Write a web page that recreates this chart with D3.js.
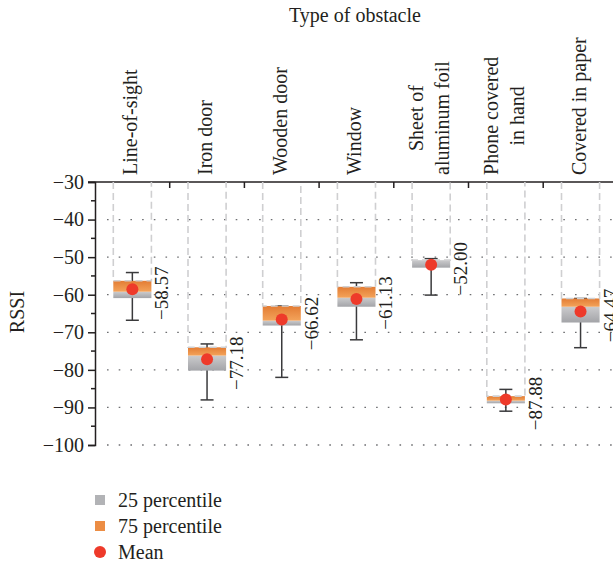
<!DOCTYPE html>
<html>
<head>
<meta charset="utf-8">
<script src="https://cdn.jsdelivr.net/npm/d3@7/dist/d3.min.js"></script>
<style>
  html, body { margin: 0; padding: 0; background: #fff; }
  svg { display: block; }
  text { font-family: "Liberation Serif", "DejaVu Serif", serif; fill: #231f20; }
</style>
</head>
<body>
<svg id="chart" width="613" height="565"></svg>
<script>
// ---- data ----
const categories = ["Line-of-sight", "Iron door", "Wooden door", "Window", "Sheet of\naluminum foil", "Phone covered\nin hand", "Covered in paper"];
const q1Values      = [-60.9, -80.2, -68.2, -63.2, -52.8, -88.9, -67.4];
const medianValues  = [-59.2, -76.2, -66.9, -60.8, -50.8, -88.2, -63.2];
const q3Values      = [-56.3, -74.0, -63.0, -57.9, -50.8, -87.0, -61.0];
const whiskerLow    = [-66.8, -88.0, -82.0, -72.0, -60.1, -91.0, -74.1];
const whiskerHigh   = [-54.1, -73.1, -63.0, -56.8, -50.4, -85.2, -61.0];
const meanValues    = [-58.57, -77.18, -66.62, -61.13, -52.00, -87.88, -64.47];
const yTicks        = [-30, -40, -50, -60, -70, -80, -90, -100];
const yMinorTicks   = [-35, -45, -55, -65, -75, -85, -95];
const legendLabels  = ["25 percentile", "75 percentile", "Mean"];
const xTitle = "Type of obstacle";
const yTitle = "RSSI";

// ---- layout ----
const svg = d3.select("#chart");
const plotLeft = 95, plotTop = 182, plotBottom = 445, bandW = 74.7;
const y = d3.scaleLinear().domain([-100, -30]).range([plotBottom, plotTop]);
const x = d3.scaleBand().domain(categories).range([plotLeft, plotLeft + bandW * categories.length]).padding(0);
const boxW = x.bandwidth() * 0.51;
const fmt = v => (v < 0 ? "\u2212" : "") + Math.abs(v).toFixed(2);

const defs = svg.append("defs");
const gOr = defs.append("linearGradient").attr("id", "gOrange").attr("x1", 0).attr("y1", 0).attr("x2", 0).attr("y2", 1);
gOr.append("stop").attr("offset", "0%").attr("stop-color", "#e37c34");
gOr.append("stop").attr("offset", "100%").attr("stop-color", "#f3a35a");
const gGr = defs.append("linearGradient").attr("id", "gGray").attr("x1", 0).attr("y1", 0).attr("x2", 0).attr("y2", 1);
gGr.append("stop").attr("offset", "0%").attr("stop-color", "#cbcbcd");
gGr.append("stop").attr("offset", "100%").attr("stop-color", "#a3a4a8");

// gridlines
svg.append("g").selectAll("line").data(yTicks.filter(d => d !== -30)).join("line")
  .attr("x1", plotLeft + 12).attr("x2", 613).attr("y1", d => y(d)).attr("y2", d => y(d))
  .attr("stroke", "#6d6e71").attr("stroke-width", 1.3).attr("stroke-dasharray", "1.6,10.1");

// y axis
const yAxis = svg.append("g").attr("transform", `translate(${plotLeft},0)`)
  .call(d3.axisLeft(y).tickValues(yTicks).tickSize(7).tickPadding(4).tickFormat(d => (d < 0 ? "\u2212" : "") + Math.abs(d)));
yAxis.select(".domain").attr("stroke", "#231f20").attr("stroke-width", 1.5);
yAxis.selectAll(".tick line").attr("stroke", "#231f20").attr("stroke-width", 1.5);
yAxis.selectAll(".tick text").attr("font-size", 20).attr("font-family", "Liberation Serif").attr("fill", "#231f20");
svg.append("g").selectAll("line").data(yMinorTicks).join("line")
  .attr("x1", plotLeft - 4).attr("x2", plotLeft).attr("y1", d => y(d)).attr("y2", d => y(d))
  .attr("stroke", "#231f20").attr("stroke-width", 1.5);

// top axis
svg.append("line").attr("x1", plotLeft - 7).attr("x2", 613).attr("y1", plotTop).attr("y2", plotTop)
  .attr("stroke", "#231f20").attr("stroke-width", 1.5);
svg.append("g").selectAll("line").data(categories).join("line")
  .attr("x1", d => x(d) + x.bandwidth()).attr("x2", d => x(d) + x.bandwidth())
  .attr("y1", plotTop).attr("y2", plotTop + 6).attr("stroke", "#231f20").attr("stroke-width", 1.5);

const rows = categories.map((c, i) => ({
  c, q1: q1Values[i], med: medianValues[i], q3: q3Values[i],
  lo: whiskerLow[i], hi: whiskerHigh[i], mean: meanValues[i],
  cx: x(c) + x.bandwidth() / 2
}));

// whiskers
const wg = svg.append("g").attr("stroke", "#3a3a3c").attr("stroke-width", 1.5);
wg.selectAll(".stem").data(rows).join("line").attr("class", "stem")
  .attr("x1", d => d.cx).attr("x2", d => d.cx).attr("y1", d => y(d.hi)).attr("y2", d => y(d.lo));
wg.selectAll(".capH").data(rows).join("line").attr("class", "capH")
  .attr("x1", d => d.cx - 6.5).attr("x2", d => d.cx + 6.5).attr("y1", d => y(d.hi)).attr("y2", d => y(d.hi));
wg.selectAll(".capL").data(rows).join("line").attr("class", "capL")
  .attr("x1", d => d.cx - 6.5).attr("x2", d => d.cx + 6.5).attr("y1", d => y(d.lo)).attr("y2", d => y(d.lo));

// boxes
svg.append("g").selectAll("rect").data(rows).join("rect")
  .attr("x", d => d.cx - boxW / 2).attr("width", boxW)
  .attr("y", d => y(d.med)).attr("height", d => y(d.q1) - y(d.med))
  .attr("fill", "url(#gGray)");
svg.append("g").selectAll("rect").data(rows.filter(d => d.q3 > d.med)).join("rect")
  .attr("x", d => d.cx - boxW / 2).attr("width", boxW)
  .attr("y", d => y(d.q3)).attr("height", d => y(d.med) - y(d.q3))
  .attr("fill", "url(#gOrange)");

// dashed outline from top to box top
svg.append("g").selectAll("path").data(rows).join("path")
  .attr("d", d => `M${d.cx - boxW / 2},${plotTop}V${y(d.q3)}H${d.cx + boxW / 2}V${plotTop}`)
  .attr("fill", "none").attr("stroke", "#cfcfd1").attr("stroke-width", 1.6).attr("stroke-dasharray", "7,4");

// means
svg.append("g").selectAll("circle").data(rows).join("circle")
  .attr("cx", d => d.cx).attr("cy", d => y(d.mean)).attr("r", 6).attr("fill", "#ee3a2a");

// value labels
svg.append("g").selectAll("text").data(rows).join("text")
  .attr("transform", d => `translate(${d.cx + 36},${y(d.mean) + 4}) rotate(-90)`)
  .attr("text-anchor", "middle")
  .attr("font-family", "'Liberation Sans Narrow', 'DejaVu Sans Condensed', sans-serif")
  .attr("font-size", 19).attr("fill", "#231f20")
  .text(d => fmt(d.mean));

// category labels
const catG = svg.append("g");
rows.forEach((d, i) => {
  const lines = d.c.split("\n");
  const n = lines.length;
  const g = catG.append("g");
  const texts = lines.map((ln, j) => g.append("text")
    .attr("font-size", 20)
    .attr("fill", i === 0 ? "#ee3a2a" : "#231f20")
    .text(ln));
  if (n === 1) {
    texts[0].attr("transform", `translate(${d.cx + 5},175) rotate(-90)`).attr("text-anchor", "start");
  } else {
    const maxW = d3.max(texts, t => t.node().getComputedTextLength());
    texts.forEach((t, j) => {
      const bx = d.cx + 5 + (j - (n - 1) / 2) * 26;
      t.attr("transform", `translate(${bx},${175 - maxW / 2}) rotate(-90)`).attr("text-anchor", "middle");
    });
  }
});

// titles
svg.append("text").attr("x", 355).attr("y", 22).attr("text-anchor", "middle").attr("font-size", 20).text(xTitle);
svg.append("text").attr("transform", `translate(24,312) rotate(-90)`).attr("text-anchor", "middle").attr("font-size", 20).text(yTitle);

// legend
const lg = svg.append("g");
const ly = [500, 526, 552];
lg.append("rect").attr("x", 95).attr("y", ly[0] - 5).attr("width", 10).attr("height", 10).attr("fill", "#b2b3b6");
lg.append("rect").attr("x", 95).attr("y", ly[1] - 5).attr("width", 10).attr("height", 10).attr("fill", "#ec8d44");
lg.append("circle").attr("cx", 100).attr("cy", ly[2]).attr("r", 6).attr("fill", "#ee3a2a");
lg.selectAll("text").data(legendLabels).join("text")
  .attr("x", 118).attr("y", (d, i) => ly[i] + 6.5).attr("font-size", 20).text(d => d);
</script>
</body>
</html>
